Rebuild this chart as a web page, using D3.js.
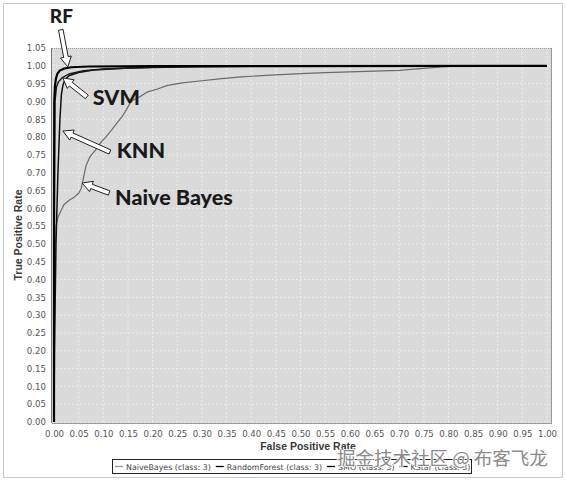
<!DOCTYPE html>
<html><head><meta charset="utf-8">
<script src="https://cdn.jsdelivr.net/npm/d3@7"></script>
<style>body{margin:0;background:#fff}svg{display:block}</style>
</head><body>
<svg id="c" width="566" height="482"></svg>
<script>
const xTicks = d3.range(0, 21).map(i => i * 0.05);
const yTicks = d3.range(0, 22).map(i => i * 0.05);
const seriesNames = ["NaiveBayes (class: 3)", "RandomForest (class: 3)", "SMO (class: 3)", "KStar (class: 3)"];
const nbFPR = [0,0,0.001,0.002,0.004,0.008,0.012,0.02,0.03,0.04,0.05,0.055,0.059,0.065,0.073,0.085,0.095,0.105,0.117,0.128,0.138,0.147,0.155,0.162,0.175,0.19,0.21,0.23,0.26,0.3,0.34,0.38,0.43,0.5,0.55,0.6,0.65,0.7,0.75,0.8,0.85,1];
const nbTPR = [0,0.2,0.35,0.45,0.55,0.575,0.587,0.61,0.622,0.63,0.642,0.655,0.68,0.72,0.745,0.765,0.785,0.8,0.82,0.84,0.857,0.877,0.897,0.905,0.914,0.927,0.935,0.945,0.952,0.958,0.964,0.969,0.973,0.978,0.981,0.983,0.985,0.987,0.993,0.998,1,1];
const rfFPR = [0,0,0.0005,0.002,0.004,0.007,0.012,0.02,0.035,0.07,0.2,1];
const rfTPR = [0,0.6,0.9,0.945,0.965,0.978,0.987,0.992,0.996,0.998,0.999,1];
const smoFPR = [0,0.0005,0.002,0.005,0.009,0.016,0.03,0.06,0.1,0.2,0.3,1];
const smoTPR = [0,0.5,0.9,0.94,0.955,0.966,0.977,0.986,0.991,0.996,0.999,1];
const knnFPR = [0,0.001,0.004,0.008,0.012,0.015,0.018,0.022,0.03,0.05,0.08,0.15,0.25,0.4,1];
const knnTPR = [0,0.2,0.5,0.7,0.85,0.92,0.945,0.96,0.972,0.981,0.988,0.994,0.997,0.999,1];

const svg = d3.select("#c");
svg.append("rect").attr("x",3.5).attr("y",3.5).attr("width",559).attr("height",474).attr("fill","#fff").attr("stroke","#c8c8c8");

const pl = 52, pr = 552, pt = 48, pb = 423;
const x = d3.scaleLinear().domain([0,1]).range([54,547]);
const y = d3.scaleLinear().domain([0,1.05]).range([422,48]);

svg.append("rect").attr("x",pl).attr("y",pt).attr("width",pr-pl).attr("height",pb-pt).attr("fill","#dadada");
const g = svg.append("g");
g.selectAll("line.v").data(xTicks).join("line").attr("x1",d=>x(d)).attr("x2",d=>x(d)).attr("y1",pt).attr("y2",pb)
  .attr("stroke","#f2f2f2").attr("stroke-width",0.8).attr("stroke-dasharray","2,2");
g.selectAll("line.h").data(yTicks).join("line").attr("y1",d=>y(d)).attr("y2",d=>y(d)).attr("x1",pl).attr("x2",pr)
  .attr("stroke","#f2f2f2").attr("stroke-width",0.8).attr("stroke-dasharray","2,2");
svg.append("line").attr("x1",pl).attr("x2",pr).attr("y1",pt+0.5).attr("y2",pt+0.5).attr("stroke","#999").attr("stroke-dasharray","1,1");
svg.append("line").attr("x1",pr-0.5).attr("x2",pr-0.5).attr("y1",pt).attr("y2",pb).attr("stroke","#999");
svg.append("line").attr("x1",pl-0.5).attr("x2",pl-0.5).attr("y1",pt).attr("y2",pb).attr("stroke","#777");
svg.append("line").attr("x1",pl).attr("x2",pr).attr("y1",pb+0.5).attr("y2",pb+0.5).attr("stroke","#999");

const xAxis = d3.axisBottom(x).tickValues(xTicks).tickFormat(d3.format(".2f")).tickSize(0).tickPadding(8);
const gx = svg.append("g").attr("transform",`translate(0,${pb})`).call(xAxis);
const yAxis = d3.axisLeft(y).tickValues(yTicks).tickFormat(d3.format(".2f")).tickSize(0).tickPadding(6);
const gy = svg.append("g").attr("transform",`translate(${pl},0)`).call(yAxis);
[gx,gy].forEach(a=>{a.select(".domain").remove();a.selectAll("text").attr("font-family","DejaVu Sans").attr("font-size",8.6).attr("fill","#555");});

svg.append("text").attr("x",308).attr("y",450).attr("text-anchor","middle").attr("font-family","Liberation Sans, Arial").attr("font-weight","bold").attr("font-size",10.5).attr("fill","#3a3a3a").text("False Positive Rate");
svg.append("text").attr("transform","translate(22,235) rotate(-90)").attr("text-anchor","middle").attr("font-family","Liberation Sans, Arial").attr("font-weight","bold").attr("font-size",10.5).attr("fill","#3a3a3a").text("True Positive Rate");

const line = d3.line().x(d=>x(d[0])).y(d=>y(d[1]));
const curves = [
  {fpr:nbFPR,tpr:nbTPR,color:"#6a6a6a",w:1.2},
  {fpr:knnFPR,tpr:knnTPR,color:"#111",w:1.5},
  {fpr:smoFPR,tpr:smoTPR,color:"#1a1a1a",w:1.4},
  {fpr:rfFPR,tpr:rfTPR,color:"#000",w:2.2}
];
svg.append("clipPath").attr("id","pc").append("rect").attr("x",pl).attr("y",pt).attr("width",pr-pl).attr("height",pb-pt);
curves.forEach(c=>{
  svg.append("path").attr("d",line(c.fpr.map((f,i)=>[f,c.tpr[i]]))).attr("fill","none")
    .attr("stroke",c.color).attr("stroke-width",c.w).attr("stroke-linejoin","round").attr("clip-path","url(#pc)");
});

const annotations = [
  {label:"RF", tip:[0.028,0.997], tail:[-7,-37], text:[-18,-44]},
  {label:"SVM", tip:[0.018,0.966], tail:[24,19], text:[30,27]},
  {label:"KNN", tip:[0.018,0.817], tail:[47,21], text:[54,27]},
  {label:"Naive Bayes", tip:[0.057,0.671], tail:[27,10], text:[33,22]}
];
function arrowPts(x1,y1,x2,y2){
  const dx=x2-x1, dy=y2-y1, L=Math.hypot(dx,dy), ux=dx/L, uy=dy/L, nx=-uy, ny=ux;
  const sw=2.3, hw=5.5, hl=10;
  const bx=x2-ux*hl, by=y2-uy*hl;
  return [[x1+nx*sw,y1+ny*sw],[bx+nx*sw,by+ny*sw],[bx+nx*hw,by+ny*hw],[x2,y2],[bx-nx*hw,by-ny*hw],[bx-nx*sw,by-ny*sw],[x1-nx*sw,y1-ny*sw]];
}
annotations.forEach(a=>{
  const tx=x(a.tip[0]), ty=y(a.tip[1]);
  const p = arrowPts(tx+a.tail[0], ty+a.tail[1], tx, ty);
  svg.append("polygon").attr("points",p.map(q=>q.join(",")).join(" ")).attr("fill","#fff").attr("stroke","#222").attr("stroke-width",1);
  svg.append("text").attr("x",tx+a.text[0]).attr("y",ty+a.text[1]).attr("font-family","Lato, Open Sans").attr("font-weight","900")
    .attr("font-size",a.label==="RF"?19:21.5).attr("fill","#1a1a1a").text(a.label);
});

// legend
const lg = svg.append("g");
lg.append("rect").attr("x",112.5).attr("y",459.5).attr("width",359).attr("height",14).attr("fill","#fff").attr("stroke","#222");
const legendColors = ["#9a9a9a","#000","#000","#000"];
let lx = 115;
seriesNames.forEach((n,i)=>{
  lg.append("line").attr("x1",lx).attr("x2",lx+8).attr("y1",466.5).attr("y2",466.5).attr("stroke",legendColors[i]).attr("stroke-width",1.3);
  const t = lg.append("text").attr("x",lx+11).attr("y",469.5).attr("font-family","DejaVu Sans").attr("font-size",7.9).attr("fill","#444").text(n);
  lx += 11 + t.node().getComputedTextLength() + 5;
});

// watermark
svg.append("text").attr("x",337).attr("y",465).attr("font-family","Noto Sans CJK SC").attr("font-size",18.5).attr("fill","#8a8a8a")
  .attr("stroke","#fff").attr("stroke-width",1.5).attr("paint-order","stroke").text("掘金技术社区 @ 布客飞龙");
</script>
</body></html>
